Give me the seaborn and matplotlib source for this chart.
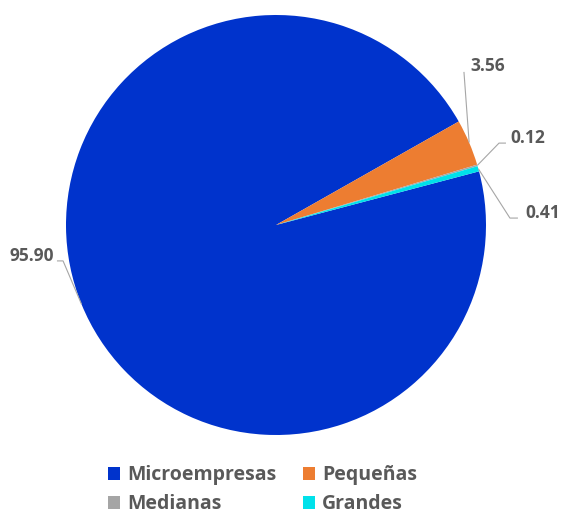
import numpy as np
import matplotlib
matplotlib.use("Agg")
import matplotlib.pyplot as plt
import seaborn as sns
from matplotlib.patches import Patch

categories = ["Microempresas", "Pequeñas", "Medianas", "Grandes"]
values = [95.90, 3.56, 0.12, 0.41]
colors = ["#0033CC", "#ED7D31", "#A5A5A5", "#00E1EA"]

# label text positions (data units, pie radius = 1) and elbow points of leader lines
label_pos = [(-1.057, -0.148), (0.924, 0.757), (1.114, 0.414), (1.186, 0.057)]
label_ha = ["right", "left", "left", "left"]
elbows = [[(-1.014, -0.171), (-1.043, -0.171)],
          [(0.895, 0.729)],
          [(1.062, 0.390), (1.095, 0.390)],
          [(1.114, 0.033), (1.152, 0.033)]]

sns.set_theme(style="white")
plt.rcParams["font.family"] = ["Open Sans", "DejaVu Sans"]

fig = plt.figure(figsize=(5.61, 5.15), dpi=100)
ax = fig.add_axes([0, 0, 1, 1])
palette = sns.color_palette(colors)
wedges, _ = ax.pie(values, colors=palette, startangle=14.8, counterclock=False,
                   radius=1.0, center=(0, 0), frame=False)
for w in wedges:
    w.set_linewidth(0)

text_color = "#595959"
line_color = "#A6A6A6"
for i, w in enumerate(wedges):
    mid = np.deg2rad((w.theta1 + w.theta2) / 2)
    start = (np.cos(mid), np.sin(mid))
    pts = [start] + elbows[i]
    ax.plot([p[0] for p in pts], [p[1] for p in pts], color=line_color, lw=0.8,
            solid_capstyle="butt")
    ax.text(label_pos[i][0], label_pos[i][1], f"{values[i]:.2f}", ha=label_ha[i],
            va="center", fontsize=12.5, fontweight="bold", color=text_color)

ax.set_xlim(-276 / 210, (561 - 276) / 210)
ax.set_ylim((225 - 515) / 210, 225 / 210)
ax.set_aspect("equal")
ax.axis("off")

# legend filled row by row (2 columns)
order = [0, 2, 1, 3]
handles = [Patch(facecolor=palette[i], edgecolor="none") for i in order]
labels = [categories[i] for i in order]
leg = fig.legend(handles, labels, ncol=2, loc="center",
                 bbox_to_anchor=(0.468, 0.049), frameon=False,
                 prop={"size": 14, "weight": "bold"},
                 handlelength=0.65, handleheight=0.65, handletextpad=0.35,
                 columnspacing=1.35, labelspacing=0.45, labelcolor=text_color)

fig.savefig("out.png", dpi=100)
